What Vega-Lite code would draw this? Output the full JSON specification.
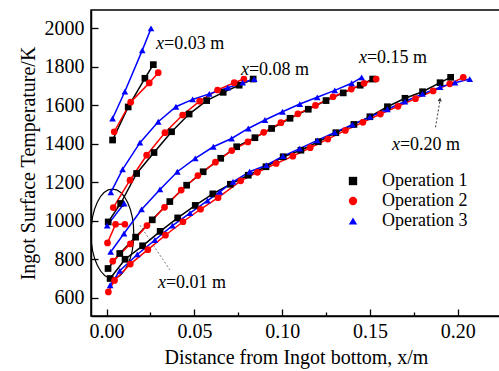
{
  "$schema": "https://vega.github.io/schema/vega-lite/v6.json",
  "width": 410,
  "height": 306,
  "autosize": "none",
  "padding": {"left": 91, "top": 10, "right": 0, "bottom": 55},
  "background": "white",
  "config": {
    "view": {"stroke": "black", "strokeWidth": 1.5},
    "font": "Liberation Serif",
    "axis": {"labelFont": "Liberation Serif", "titleFont": "Liberation Serif", "labelColor": "black", "titleColor": "black", "domainColor": "black", "tickColor": "black", "domainWidth": 1.5, "tickWidth": 1.3, "grid": false, "labelFontSize": 20, "titleFontSize": 20, "titleFontWeight": "normal"},
    "legend": {"orient": "none", "legendX": 238, "legendY": 162, "title": null, "symbolSize": 70, "symbolOffset": 15, "labelOffset": 20, "labelFont": "Liberation Serif", "labelFontSize": 18, "labelColor": "black", "rowPadding": 2, "symbolStrokeWidth": 0}
  },
  "datasets": {
    "curves": [
      {"op": "Operation 1", "g": "A", "x": 0.0034, "y": 1420},
      {"op": "Operation 1", "g": "A", "x": 0.0123, "y": 1592},
      {"op": "Operation 1", "g": "A", "x": 0.0218, "y": 1741},
      {"op": "Operation 1", "g": "A", "x": 0.0266, "y": 1812},
      {"op": "Operation 1", "g": "B", "x": 0.0009, "y": 994},
      {"op": "Operation 1", "g": "B", "x": 0.008, "y": 1090},
      {"op": "Operation 1", "g": "B", "x": 0.0171, "y": 1246},
      {"op": "Operation 1", "g": "B", "x": 0.027, "y": 1355},
      {"op": "Operation 1", "g": "B", "x": 0.037, "y": 1463},
      {"op": "Operation 1", "g": "B", "x": 0.047, "y": 1555},
      {"op": "Operation 1", "g": "B", "x": 0.057, "y": 1625},
      {"op": "Operation 1", "g": "B", "x": 0.0664, "y": 1668},
      {"op": "Operation 1", "g": "B", "x": 0.0755, "y": 1705},
      {"op": "Operation 1", "g": "B", "x": 0.0835, "y": 1737},
      {"op": "Operation 1", "g": "C", "x": 0.0008, "y": 752},
      {"op": "Operation 1", "g": "C", "x": 0.0075, "y": 830},
      {"op": "Operation 1", "g": "C", "x": 0.0165, "y": 915},
      {"op": "Operation 1", "g": "C", "x": 0.026, "y": 1005},
      {"op": "Operation 1", "g": "C", "x": 0.036, "y": 1100},
      {"op": "Operation 1", "g": "C", "x": 0.0456, "y": 1185},
      {"op": "Operation 1", "g": "C", "x": 0.055, "y": 1255},
      {"op": "Operation 1", "g": "C", "x": 0.065, "y": 1325},
      {"op": "Operation 1", "g": "C", "x": 0.0741, "y": 1385},
      {"op": "Operation 1", "g": "C", "x": 0.0845, "y": 1432},
      {"op": "Operation 1", "g": "C", "x": 0.094, "y": 1480},
      {"op": "Operation 1", "g": "C", "x": 0.1045, "y": 1533},
      {"op": "Operation 1", "g": "C", "x": 0.1149, "y": 1580},
      {"op": "Operation 1", "g": "C", "x": 0.125, "y": 1625},
      {"op": "Operation 1", "g": "C", "x": 0.1348, "y": 1665},
      {"op": "Operation 1", "g": "C", "x": 0.1445, "y": 1705},
      {"op": "Operation 1", "g": "C", "x": 0.1516, "y": 1737},
      {"op": "Operation 1", "g": "D", "x": 0.002, "y": 700},
      {"op": "Operation 1", "g": "D", "x": 0.0105, "y": 800},
      {"op": "Operation 1", "g": "D", "x": 0.0205, "y": 870},
      {"op": "Operation 1", "g": "D", "x": 0.0305, "y": 945},
      {"op": "Operation 1", "g": "D", "x": 0.0405, "y": 1015},
      {"op": "Operation 1", "g": "D", "x": 0.0505, "y": 1080},
      {"op": "Operation 1", "g": "D", "x": 0.0605, "y": 1140},
      {"op": "Operation 1", "g": "D", "x": 0.0705, "y": 1190},
      {"op": "Operation 1", "g": "D", "x": 0.0807, "y": 1237},
      {"op": "Operation 1", "g": "D", "x": 0.0908, "y": 1281},
      {"op": "Operation 1", "g": "D", "x": 0.1006, "y": 1333},
      {"op": "Operation 1", "g": "D", "x": 0.1107, "y": 1367},
      {"op": "Operation 1", "g": "D", "x": 0.1206, "y": 1411},
      {"op": "Operation 1", "g": "D", "x": 0.1306, "y": 1458},
      {"op": "Operation 1", "g": "D", "x": 0.1409, "y": 1501},
      {"op": "Operation 1", "g": "D", "x": 0.150, "y": 1541},
      {"op": "Operation 1", "g": "D", "x": 0.160, "y": 1593},
      {"op": "Operation 1", "g": "D", "x": 0.170, "y": 1637},
      {"op": "Operation 1", "g": "D", "x": 0.180, "y": 1671},
      {"op": "Operation 1", "g": "D", "x": 0.190, "y": 1718},
      {"op": "Operation 1", "g": "D", "x": 0.196, "y": 1746},
      {"op": "Operation 2", "g": "A", "x": 0.0043, "y": 1463},
      {"op": "Operation 2", "g": "A", "x": 0.0137, "y": 1617},
      {"op": "Operation 2", "g": "A", "x": 0.0243, "y": 1717},
      {"op": "Operation 2", "g": "A", "x": 0.0294, "y": 1770},
      {"op": "Operation 2", "g": "B", "x": 0.0038, "y": 1069},
      {"op": "Operation 2", "g": "B", "x": 0.0133, "y": 1211},
      {"op": "Operation 2", "g": "B", "x": 0.0228, "y": 1341},
      {"op": "Operation 2", "g": "B", "x": 0.0332, "y": 1458},
      {"op": "Operation 2", "g": "B", "x": 0.0433, "y": 1550},
      {"op": "Operation 2", "g": "B", "x": 0.053, "y": 1622},
      {"op": "Operation 2", "g": "B", "x": 0.0632, "y": 1680},
      {"op": "Operation 2", "g": "B", "x": 0.0727, "y": 1718},
      {"op": "Operation 2", "g": "B", "x": 0.0782, "y": 1737},
      {"op": "Operation 2", "g": "C", "x": 0.0035, "y": 790},
      {"op": "Operation 2", "g": "C", "x": 0.0135, "y": 880},
      {"op": "Operation 2", "g": "C", "x": 0.023, "y": 975},
      {"op": "Operation 2", "g": "C", "x": 0.033, "y": 1070},
      {"op": "Operation 2", "g": "C", "x": 0.0425, "y": 1160},
      {"op": "Operation 2", "g": "C", "x": 0.052, "y": 1235},
      {"op": "Operation 2", "g": "C", "x": 0.062, "y": 1305},
      {"op": "Operation 2", "g": "C", "x": 0.0713, "y": 1365},
      {"op": "Operation 2", "g": "C", "x": 0.0805, "y": 1410},
      {"op": "Operation 2", "g": "C", "x": 0.0895, "y": 1460},
      {"op": "Operation 2", "g": "C", "x": 0.0993, "y": 1510},
      {"op": "Operation 2", "g": "C", "x": 0.109, "y": 1556},
      {"op": "Operation 2", "g": "C", "x": 0.119, "y": 1600},
      {"op": "Operation 2", "g": "C", "x": 0.129, "y": 1645},
      {"op": "Operation 2", "g": "C", "x": 0.1394, "y": 1685},
      {"op": "Operation 2", "g": "C", "x": 0.1467, "y": 1715},
      {"op": "Operation 2", "g": "C", "x": 0.1536, "y": 1737},
      {"op": "Operation 2", "g": "D", "x": 0.001, "y": 630},
      {"op": "Operation 2", "g": "D", "x": 0.0045, "y": 690},
      {"op": "Operation 2", "g": "D", "x": 0.0135, "y": 775},
      {"op": "Operation 2", "g": "D", "x": 0.0235, "y": 850},
      {"op": "Operation 2", "g": "D", "x": 0.0335, "y": 925},
      {"op": "Operation 2", "g": "D", "x": 0.0435, "y": 995},
      {"op": "Operation 2", "g": "D", "x": 0.0535, "y": 1060},
      {"op": "Operation 2", "g": "D", "x": 0.0635, "y": 1120},
      {"op": "Operation 2", "g": "D", "x": 0.0764, "y": 1208},
      {"op": "Operation 2", "g": "D", "x": 0.0859, "y": 1252},
      {"op": "Operation 2", "g": "D", "x": 0.0966, "y": 1298},
      {"op": "Operation 2", "g": "D", "x": 0.1061, "y": 1336},
      {"op": "Operation 2", "g": "D", "x": 0.116, "y": 1380},
      {"op": "Operation 2", "g": "D", "x": 0.126, "y": 1425},
      {"op": "Operation 2", "g": "D", "x": 0.136, "y": 1470},
      {"op": "Operation 2", "g": "D", "x": 0.146, "y": 1512},
      {"op": "Operation 2", "g": "D", "x": 0.156, "y": 1555},
      {"op": "Operation 2", "g": "D", "x": 0.166, "y": 1595},
      {"op": "Operation 2", "g": "D", "x": 0.176, "y": 1635},
      {"op": "Operation 2", "g": "D", "x": 0.186, "y": 1675},
      {"op": "Operation 2", "g": "D", "x": 0.1955, "y": 1712},
      {"op": "Operation 2", "g": "D", "x": 0.2032, "y": 1746},
      {"op": "Operation 2", "g": "E", "x": 0.0005, "y": 885},
      {"op": "Operation 2", "g": "E", "x": 0.0051, "y": 982},
      {"op": "Operation 2", "g": "E", "x": 0.0104, "y": 982},
      {"op": "Operation 3", "g": "A", "x": 0.0034, "y": 1532},
      {"op": "Operation 3", "g": "A", "x": 0.0104, "y": 1672},
      {"op": "Operation 3", "g": "A", "x": 0.0203, "y": 1886},
      {"op": "Operation 3", "g": "A", "x": 0.0253, "y": 2000},
      {"op": "Operation 3", "g": "B", "x": 0.0024, "y": 1148},
      {"op": "Operation 3", "g": "B", "x": 0.0091, "y": 1267},
      {"op": "Operation 3", "g": "B", "x": 0.019, "y": 1406},
      {"op": "Operation 3", "g": "B", "x": 0.0294, "y": 1515},
      {"op": "Operation 3", "g": "B", "x": 0.0395, "y": 1593},
      {"op": "Operation 3", "g": "B", "x": 0.049, "y": 1631},
      {"op": "Operation 3", "g": "B", "x": 0.0585, "y": 1660},
      {"op": "Operation 3", "g": "B", "x": 0.069, "y": 1692},
      {"op": "Operation 3", "g": "B", "x": 0.0775, "y": 1718},
      {"op": "Operation 3", "g": "B", "x": 0.0841, "y": 1737},
      {"op": "Operation 3", "g": "C", "x": 0.0023, "y": 838},
      {"op": "Operation 3", "g": "C", "x": 0.0099, "y": 934},
      {"op": "Operation 3", "g": "C", "x": 0.0199, "y": 1059},
      {"op": "Operation 3", "g": "C", "x": 0.0304, "y": 1163},
      {"op": "Operation 3", "g": "C", "x": 0.0403, "y": 1255},
      {"op": "Operation 3", "g": "C", "x": 0.0505, "y": 1325},
      {"op": "Operation 3", "g": "C", "x": 0.0608, "y": 1385},
      {"op": "Operation 3", "g": "C", "x": 0.0712, "y": 1428},
      {"op": "Operation 3", "g": "C", "x": 0.0807, "y": 1480},
      {"op": "Operation 3", "g": "C", "x": 0.0902, "y": 1524},
      {"op": "Operation 3", "g": "C", "x": 0.1002, "y": 1567},
      {"op": "Operation 3", "g": "C", "x": 0.1101, "y": 1607},
      {"op": "Operation 3", "g": "C", "x": 0.12, "y": 1642},
      {"op": "Operation 3", "g": "C", "x": 0.13, "y": 1678},
      {"op": "Operation 3", "g": "C", "x": 0.1396, "y": 1715},
      {"op": "Operation 3", "g": "C", "x": 0.1453, "y": 1746},
      {"op": "Operation 3", "g": "D", "x": 0.002, "y": 665},
      {"op": "Operation 3", "g": "D", "x": 0.0075, "y": 740},
      {"op": "Operation 3", "g": "D", "x": 0.0175, "y": 825},
      {"op": "Operation 3", "g": "D", "x": 0.0275, "y": 900},
      {"op": "Operation 3", "g": "D", "x": 0.0375, "y": 975},
      {"op": "Operation 3", "g": "D", "x": 0.0475, "y": 1040},
      {"op": "Operation 3", "g": "D", "x": 0.0575, "y": 1105},
      {"op": "Operation 3", "g": "D", "x": 0.0645, "y": 1150},
      {"op": "Operation 3", "g": "D", "x": 0.072, "y": 1203},
      {"op": "Operation 3", "g": "D", "x": 0.0815, "y": 1255},
      {"op": "Operation 3", "g": "D", "x": 0.091, "y": 1289},
      {"op": "Operation 3", "g": "D", "x": 0.1005, "y": 1336},
      {"op": "Operation 3", "g": "D", "x": 0.11, "y": 1375},
      {"op": "Operation 3", "g": "D", "x": 0.12, "y": 1418},
      {"op": "Operation 3", "g": "D", "x": 0.13, "y": 1460},
      {"op": "Operation 3", "g": "D", "x": 0.14, "y": 1500},
      {"op": "Operation 3", "g": "D", "x": 0.15, "y": 1540},
      {"op": "Operation 3", "g": "D", "x": 0.16, "y": 1580},
      {"op": "Operation 3", "g": "D", "x": 0.17, "y": 1620},
      {"op": "Operation 3", "g": "D", "x": 0.18, "y": 1660},
      {"op": "Operation 3", "g": "D", "x": 0.19, "y": 1695},
      {"op": "Operation 3", "g": "D", "x": 0.1985, "y": 1718},
      {"op": "Operation 3", "g": "D", "x": 0.2069, "y": 1737},
      {"op": "Operation 3", "g": "E", "x": 0.0003, "y": 975},
      {"op": "Operation 3", "g": "E", "x": 0.0100, "y": 1090}
    ],
    "labels": [
      {"lx": 0.0327, "ly": 1919, "t": "=0.03 m"},
      {"lx": 0.0811, "ly": 1784, "t": "=0.08 m"},
      {"lx": 0.1483, "ly": 1845, "t": "=0.15 m"},
      {"lx": 0.1671, "ly": 1394, "t": "=0.20 m"},
      {"lx": 0.0338, "ly": 677, "t": "=0.01 m"}
    ],
    "grayPointer": [{"px": 0.019, "py": 977, "px2": 0.036, "py2": 745}],
    "darkPointer": [{"px": 0.1874, "py": 1486, "px2": 0.1899, "py2": 1625}],
    "arrowhead": [{"ax": 0.1899, "ay": 1631}],
    "ellipse": [{"ex": 0.0033, "ey": 933}]
  },
  "layer": [
    {
      "data": {"name": "ellipse"},
      "mark": {"type": "point", "shape": "M-0.48,0A0.48,1 0 1,1 0.48,0A0.48,1 0 1,1 -0.48,0Z", "filled": false, "stroke": "black", "strokeWidth": 1.2, "size": 7921, "opacity": 1},
      "encoding": {
        "x": {"field": "ex", "type": "quantitative"},
        "y": {"field": "ey", "type": "quantitative"}
      }
    },
    {
      "data": {"name": "grayPointer"},
      "mark": {"type": "rule", "strokeDash": [2, 2], "strokeWidth": 1, "color": "#777777"},
      "encoding": {
        "x": {"field": "px", "type": "quantitative"},
        "y": {"field": "py", "type": "quantitative"},
        "x2": {"field": "px2"},
        "y2": {"field": "py2"}
      }
    },
    {
      "data": {"name": "darkPointer"},
      "mark": {"type": "rule", "strokeDash": [2, 2], "strokeWidth": 1, "color": "#333333"},
      "encoding": {
        "x": {"field": "px", "type": "quantitative"},
        "y": {"field": "py", "type": "quantitative"},
        "x2": {"field": "px2"},
        "y2": {"field": "py2"}
      }
    },
    {
      "data": {"name": "arrowhead"},
      "mark": {"type": "point", "shape": "triangle-up", "filled": true, "color": "#333333", "size": 18, "angle": 9, "opacity": 1},
      "encoding": {
        "x": {"field": "ax", "type": "quantitative"},
        "y": {"field": "ay", "type": "quantitative"}
      }
    },
    {
      "data": {"name": "curves"},
      "mark": {"type": "line", "strokeWidth": 1.5},
      "encoding": {
        "x": {"field": "x", "type": "quantitative", "scale": {"domain": [-0.0089, 0.2247], "nice": false, "zero": false},
          "axis": {"title": "Distance from Ingot bottom, x/m", "values": [0, 0.025, 0.05, 0.075, 0.1, 0.125, 0.15, 0.175, 0.2], "labelExpr": "round(datum.value*1000) % 50 == 0 ? format(datum.value, '.2f') : ''", "tickSize": {"condition": {"test": "round(datum.value*1000) % 50 != 0", "value": -4}, "value": -7}, "labelPadding": 12, "titlePadding": 6}},
        "y": {"field": "y", "type": "quantitative", "scale": {"domain": [505, 2096], "nice": false, "zero": false},
          "axis": {"title": "Ingot Surface Temperature/K", "values": [600, 700, 800, 900, 1000, 1100, 1200, 1300, 1400, 1500, 1600, 1700, 1800, 1900, 2000], "labelExpr": "datum.value % 200 == 0 ? datum.value : ''", "tickSize": {"condition": {"test": "datum.value % 200 != 0", "value": -4}, "value": -7}, "labelPadding": 14, "titlePadding": 6}},
        "color": {"field": "op", "type": "nominal", "scale": {"domain": ["Operation 1", "Operation 2", "Operation 3"], "range": ["#000000", "#ff0000", "#0000ff"]},
          "legend": {"labelFont": "Liberation Serif", "labelFontSize": 18}},
        "detail": {"field": "g"}
      }
    },
    {
      "data": {"name": "curves"},
      "mark": {"type": "point", "filled": true, "size": 45, "opacity": 1},
      "encoding": {
        "x": {"field": "x", "type": "quantitative"},
        "y": {"field": "y", "type": "quantitative"},
        "color": {"field": "op", "type": "nominal",
          "legend": {"labelFont": "Liberation Serif", "labelFontSize": 18}},
        "shape": {"field": "op", "type": "nominal", "scale": {"domain": ["Operation 1", "Operation 2", "Operation 3"], "range": ["square", "circle", "triangle-up"]}, "legend": null}
      }
    },
    {
      "data": {"name": "labels"},
      "mark": {"type": "text", "text": "x", "font": "Liberation Serif", "fontStyle": "italic", "fontSize": 18, "align": "right", "baseline": "middle", "color": "black"},
      "encoding": {
        "x": {"field": "lx", "type": "quantitative"},
        "y": {"field": "ly", "type": "quantitative"}
      }
    },
    {
      "data": {"name": "labels"},
      "mark": {"type": "text", "font": "Liberation Serif", "fontSize": 18, "align": "left", "baseline": "middle", "color": "black"},
      "encoding": {
        "x": {"field": "lx", "type": "quantitative"},
        "y": {"field": "ly", "type": "quantitative"},
        "text": {"field": "t"}
      }
    }
  ]
}
